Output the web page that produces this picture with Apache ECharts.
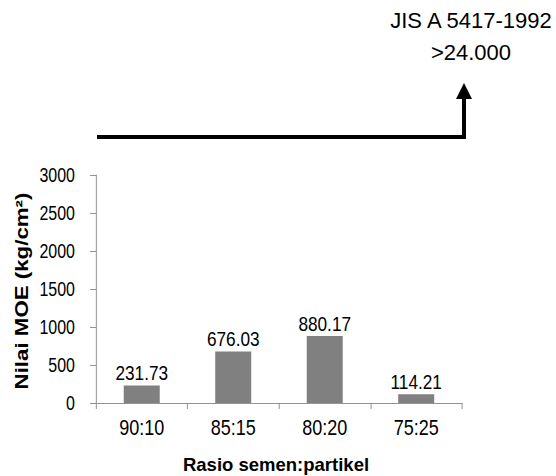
<!DOCTYPE html>
<html>
<head>
<meta charset="utf-8">
<script src="https://cdn.jsdelivr.net/npm/echarts@6/dist/echarts.min.js"></script>
<style>
  html, body { margin: 0; padding: 0; background: #fff; overflow: hidden; }
  #wrap { width: 556px; height: 476px; overflow: hidden; }
  /* the chart is laid out wide and condensed horizontally */
  #chart { width: 678px; height: 476px; transform: scaleX(0.82); transform-origin: 0 0; }
</style>
</head>
<body>
<div id="wrap"><div id="chart"></div></div>
<script>
// Cement : particle ratios and the measured MOE values (kg/cm²)
const categories = ['90:10', '85:15', '80:20', '75:25'];
const moeValues = [231.73, 676.03, 880.17, 114.21];
const yTicks = [0, 500, 1000, 1500, 2000, 2500, 3000];

const xTitle = 'Rasio semen:partikel';
const yTitle = 'Nilai MOE (kg/cm²)';
const standardLines = ['JIS A 5417-1992', '>24.000'];

const S = 0.82;              // horizontal condensing of the chart layer
const px = x => x / S;       // page x -> chart layer x
const font = '"Liberation Sans", Arial, sans-serif';

const chart = echarts.init(document.getElementById('chart'), null, { renderer: 'svg' });

chart.setOption({
  animation: false,
  backgroundColor: '#ffffff',
  grid: { left: px(96), right: px(94), top: 175, bottom: 73 },
  xAxis: {
    type: 'category',
    data: categories,
    axisLine: { lineStyle: { color: '#888', width: 1 } },
    axisTick: { show: true, length: 6, lineStyle: { color: '#888' } },
    axisLabel: { fontFamily: font, fontSize: 22, color: '#000', margin: 13 }
  },
  yAxis: {
    type: 'value',
    min: yTicks[0],
    max: yTicks[yTicks.length - 1],
    interval: yTicks[1] - yTicks[0],
    axisLine: { show: true, lineStyle: { color: '#888', width: 1 } },
    axisTick: { show: true, length: px(6), lineStyle: { color: '#888' } },
    axisLabel: { fontFamily: font, fontSize: 19.5, color: '#000', margin: px(21), formatter: v => String(v) },
    splitLine: { show: false }
  },
  series: [{
    type: 'bar',
    data: moeValues,
    barWidth: px(36),
    itemStyle: { color: '#808080' },
    label: {
      show: true,
      position: 'top',
      distance: 2,
      fontFamily: font,
      fontSize: 21,
      color: '#000',
      formatter: p => p.value.toFixed(2)
    }
  }],
  graphic: [
    {
      // value-axis title
      type: 'text',
      x: px(22), y: 291,
      rotation: Math.PI / 2,
      style: {
        text: yTitle,
        textAlign: 'center',
        textVerticalAlign: 'middle',
        fontFamily: font,
        fontSize: 22.3,
        fontWeight: 'bold',
        fill: '#000'
      }
    },
    {
      // category-axis title, kept at its natural width
      type: 'text',
      x: px(276), y: 465,
      scaleX: 1 / S,
      style: {
        text: xTitle,
        textAlign: 'center',
        textVerticalAlign: 'middle',
        fontFamily: font,
        fontSize: 18.5,
        fontWeight: 'bold',
        fill: '#000'
      }
    },
    {
      type: 'line',
      shape: { x1: px(97), y1: 137, x2: px(466), y2: 137 },
      style: { stroke: '#000', lineWidth: 4 }
    },
    {
      type: 'line',
      shape: { x1: px(464), y1: 139, x2: px(464), y2: 96 },
      style: { stroke: '#000', lineWidth: 4 / S }
    },
    {
      type: 'polygon',
      shape: { points: [[px(456), 99], [px(472), 99], [px(464), 83]] },
      style: { fill: '#000' }
    },
    {
      type: 'text',
      x: px(471), y: 5,
      scaleX: 1 / S,
      style: {
        text: standardLines.join('\n'),
        textAlign: 'center',
        fontFamily: font,
        fontSize: 22,
        lineHeight: 32,
        fill: '#000'
      }
    }
  ]
});
</script>
</body>
</html>
